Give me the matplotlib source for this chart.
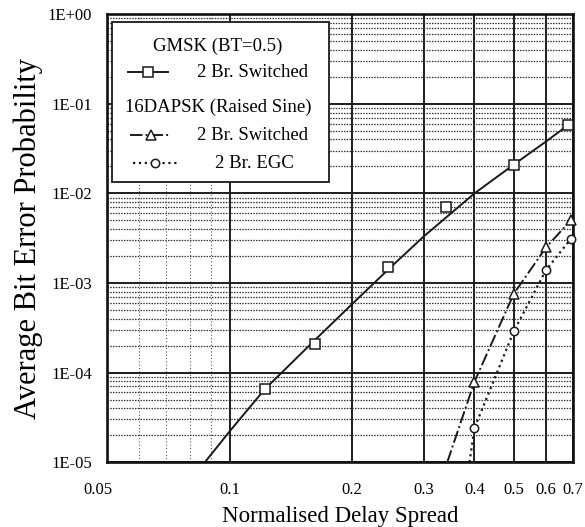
import matplotlib
matplotlib.use('Agg')
import matplotlib.pyplot as plt
import matplotlib.transforms as mtrans
from matplotlib.patches import Rectangle
from matplotlib.ticker import FixedLocator, NullFormatter, LogLocator

plt.rcParams['font.family'] = ['Liberation Serif', 'DejaVu Serif']

# GMSK (BT=0.5), 2 branch switched: measured points and fitted curve
gmsk_x = [0.122, 0.162, 0.245, 0.34, 0.5, 0.68]
gmsk_y = [6.6e-5, 2.1e-4, 1.5e-3, 7.1e-3, 2.1e-2, 5.8e-2]
gmsk_fit_x = [0.087, 0.1, 0.122, 0.162, 0.2, 0.245, 0.3, 0.4, 0.5, 0.6, 0.68]
gmsk_fit_y = [1.0e-5, 2.2e-5, 6.5e-5, 2.3e-4, 5.8e-4, 1.4e-3, 3.3e-3,
              1.0e-2, 2.1e-2, 3.8e-2, 5.8e-2]

# 16DAPSK (raised sine)
sw_x = [0.4, 0.5, 0.6, 0.69]
sw_y = [7.9e-5, 7.6e-4, 2.5e-3, 5.0e-3]
sw_fit_x = [0.343, 0.4, 0.5, 0.6, 0.69]
sw_fit_y = [1.0e-5, 7.9e-5, 7.6e-4, 2.5e-3, 5.0e-3]

egc_x = [0.4, 0.5, 0.6, 0.69]
egc_y = [2.4e-5, 2.9e-4, 1.4e-3, 3.1e-3]
egc_fit_x = [0.389, 0.4, 0.5, 0.6, 0.69]
egc_fit_y = [1.0e-5, 2.4e-5, 2.9e-4, 1.4e-3, 3.1e-3]

x_ticks = [0.05, 0.1, 0.2, 0.3, 0.4, 0.5, 0.6, 0.7]
x_ticklabels = ['0.05', '0.1', '0.2', '0.3', '0.4', '0.5', '0.6', '0.7']
x_minor = [0.06, 0.07, 0.08, 0.09]
y_ticks = [1e-5, 1e-4, 1e-3, 1e-2, 1e-1, 1e0]
y_ticklabels = ['1E-05', '1E-04', '1E-03', '1E-02', '1E-01', '1E+00']

fig = plt.figure(figsize=(5.85, 5.27), dpi=100)
ax = fig.add_axes([0.183, 0.123, 0.797, 0.85])
ax.set_xscale('log')
ax.set_yscale('log')
ax.set_xlim(0.05, 0.7)
ax.set_ylim(1e-5, 1)

ax.xaxis.set_major_locator(FixedLocator(x_ticks))
ax.set_xticklabels(x_ticklabels)
ax.xaxis.set_minor_locator(FixedLocator(x_minor))
ax.xaxis.set_minor_formatter(NullFormatter())
ax.yaxis.set_major_locator(FixedLocator(y_ticks))
ax.set_yticklabels(y_ticklabels)
ax.yaxis.set_minor_locator(LogLocator(base=10, subs=range(2, 10)))
ax.yaxis.set_minor_formatter(NullFormatter())

ax.grid(which='major', color='#1e1e1e', linewidth=1.4, linestyle='-')
ax.yaxis.grid(which='minor', color='#333333', linewidth=0.9, linestyle=(0, (1.2, 1)))
ax.xaxis.grid(which='minor', color='#555555', linewidth=0.8, linestyle=(0, (1, 2)))
ax.set_axisbelow(True)
ax.tick_params(which='both', length=0)
ax.tick_params(axis='x', pad=14, labelsize=12)
ax.tick_params(axis='y', pad=11, labelsize=12)
for s in ax.spines.values():
    s.set_linewidth(1.9)
    s.set_color('#111111')

# nudge the first x label left, as in the original
lbl = ax.get_xticklabels()[0]
lbl.set_transform(lbl.get_transform() + mtrans.ScaledTranslation(-9 / 100, 0, fig.dpi_scale_trans))

col = '#1a1a1a'
ax.plot(gmsk_fit_x, gmsk_fit_y, '-', color=col, lw=1.4)
ax.plot(gmsk_x, gmsk_y, 's', mfc='white', mec=col, ms=7, mew=1.1, clip_on=False, zorder=4)
ax.plot(sw_fit_x, sw_fit_y, '-.', color=col, lw=1.4)
ax.plot(sw_x, sw_y, '^', mfc='white', mec=col, ms=7, mew=1.1, clip_on=False, zorder=4)
ax.plot(egc_fit_x, egc_fit_y, ':', color=col, lw=1.6)
ax.plot(egc_x, egc_y, 'o', mfc='white', mec=col, ms=6, mew=1.1, clip_on=False, zorder=4)

ax.set_xlabel('Normalised Delay Spread', fontsize=16.5, labelpad=6)
ax.set_ylabel('Average Bit Error Probability', fontsize=22, labelpad=3)

# hand-made legend box
tr = ax.transAxes
ax.add_patch(Rectangle((0.011, 0.625), 0.465, 0.357, transform=tr,
                       facecolor='white', edgecolor=col, lw=1.3, zorder=5))
fs = 13.5
ax.text(0.237, 0.928, 'GMSK (BT=0.5)', transform=tr, ha='center', va='center', fontsize=fs, zorder=6)
ax.plot([0.045, 0.13], [0.871, 0.871], '-', color=col, lw=1.4, transform=tr, zorder=6)
ax.plot([0.088], [0.871], 's', mfc='white', mec=col, ms=7, mew=1.1, transform=tr, zorder=7)
ax.text(0.192, 0.871, '2 Br. Switched', transform=tr, ha='left', va='center', fontsize=fs, zorder=6)
ax.text(0.239, 0.793, '16DAPSK (Raised Sine)', transform=tr, ha='center', va='center', fontsize=fs, zorder=6)
ax.plot([0.05, 0.135], [0.730, 0.730], '-.', color=col, lw=1.4, transform=tr, zorder=6)
ax.plot([0.094], [0.730], '^', mfc='white', mec=col, ms=7, mew=1.1, transform=tr, zorder=7)
ax.text(0.192, 0.730, '2 Br. Switched', transform=tr, ha='left', va='center', fontsize=fs, zorder=6)
ax.plot([0.056, 0.155], [0.667, 0.667], ':', color=col, lw=1.6, transform=tr, zorder=6)
ax.plot([0.103], [0.667], 'o', mfc='white', mec=col, ms=6, mew=1.1, transform=tr, zorder=7)
ax.text(0.231, 0.667, '2 Br. EGC', transform=tr, ha='left', va='center', fontsize=fs, zorder=6)

fig.savefig('out.png', dpi=100)
